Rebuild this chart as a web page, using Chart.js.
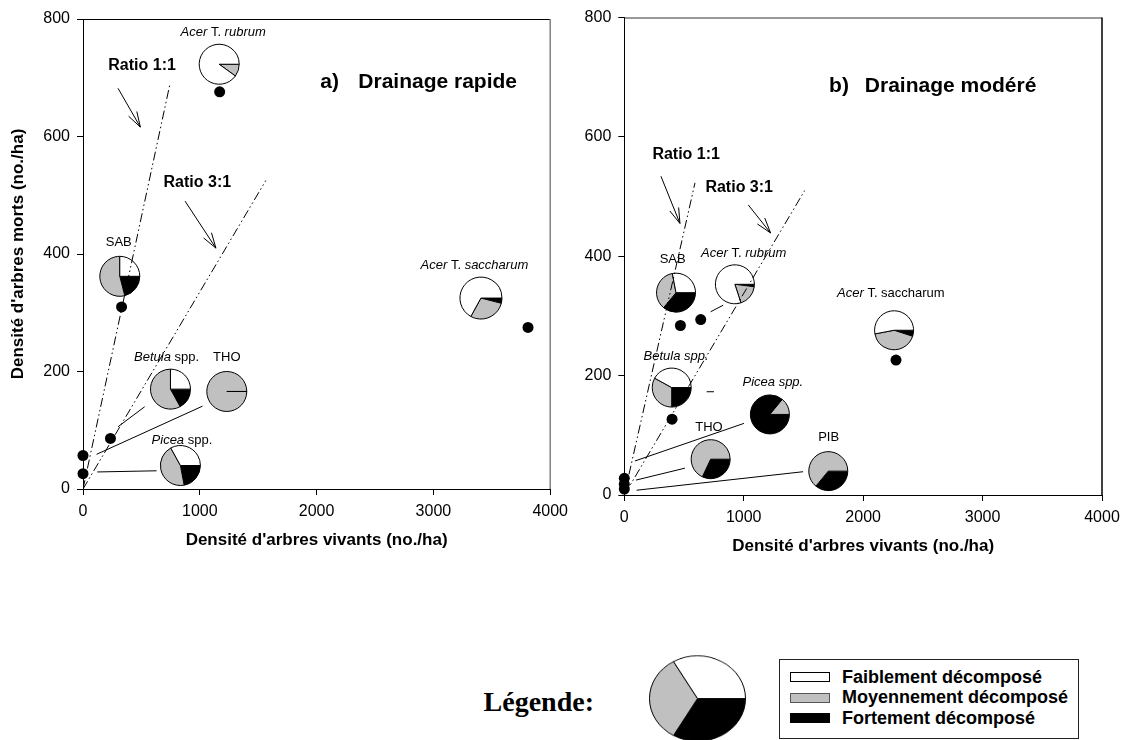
<!DOCTYPE html>
<html lang="fr">
<head>
<meta charset="utf-8">
<title>Densité d'arbres morts et vivants</title>
<script src="https://cdn.jsdelivr.net/npm/chart.js@4.4.1/dist/chart.umd.min.js"></script>
<style>
  body { margin: 0; background: #fff; }
  #wrap { position: relative; width: 1130px; height: 740px; overflow: hidden; font-family: 'Liberation Sans', Arial, sans-serif; }
  #chartA { position: absolute; left: 0; top: 0; }
  #chartB { position: absolute; left: 560px; top: 0; }
  #legPie { position: absolute; left: 649px; top: 650px; transform: scaleY(0.89); }
  #legTitle { position: absolute; right: 536px; top: 686px; line-height: 32px; font: bold 28px 'Liberation Serif', 'Times New Roman', serif; }
  #legBox { position: absolute; left: 779px; top: 659px; width: 298px; height: 78px; border: 1px solid #222; }
  .row { position: absolute; left: 10px; height: 20px; display: flex; align-items: center; font-weight: bold; font-size: 18px; }
  .sw { width: 40px; height: 10px; border: 1px solid #000; margin-right: 12px; box-sizing: border-box; }
</style>
</head>
<body>
<div id="wrap">
  <canvas id="chartA" width="575" height="560"></canvas>
  <canvas id="chartB" width="570" height="570"></canvas>
  <div id="legTitle">Légende:</div>
  <canvas id="legPie" width="97" height="97"></canvas>
  <div id="legBox"></div>
</div>
<script>
/* eslint-disable no-undef */
const FAM = "'Liberation Sans', Arial, sans-serif";
Chart.defaults.font.family = FAM;
Chart.defaults.color = '#000';

// decay classes, in the order the pies are drawn (clockwise from 3 o'clock)
const decayLabels = ['Fortement décomposé', 'Moyennement décomposé', 'Faiblement décomposé'];
const decayColors = ['#000000', '#c0c0c0', '#ffffff'];
const legendShares = [1, 1, 1];

const xTicks = [0, 1000, 2000, 3000, 4000];
const yTicks = [0, 200, 400, 600, 800];

// a) Drainage rapide
const speciesA = ['Acer T. rubrum', 'Acer T. saccharum', 'SAB', 'Betula spp.', 'THO', 'Picea spp.'];
const vivantsA = [1170, 3810, 330, 235, 0, 0];
const mortsA = [676, 275, 310, 86, 57, 26];
const fortA = [0, 4, 21, 17, 0, 22];
const moyenA = [10, 29, 54, 58, 100, 45];
const faibleA = [90, 67, 25, 25, 0, 33];
const ratio11A = [[0, 0], [745, 690]];
const ratio31A = [[0, 0], [1565, 525]];

// b) Drainage modéré
const speciesB = ['SAB', 'Acer T. rubrum', 'Acer T. saccharum', 'Betula spp.', 'Picea spp.', 'THO', 'PIB'];
const vivantsB = [470, 640, 2275, 400, 0, 0, 0];
const mortsB = [284, 294, 226, 127, 28, 18, 10];
const fortB = [36, 2, 5, 25, 86, 32, 36];
const moyenB = [36, 18, 42, 33, 14, 68, 64];
const faibleB = [28, 80, 53, 42, 0, 0, 0];
const ratio11B = [[0, 0], [592, 523]];
const ratio31B = [[0, 0], [1510, 510]];

// where the pies, their names and the leader lines sit (data units)
const placeA = {
  'Acer T. rubrum': { pie: [1166, 723], label: [1200, 778], runs: [['Acer', 1], [' T. ', 0], ['rubrum', 1]] },
  'Acer T. saccharum': { pie: [3407, 325], label: [3351, 381], r: 21, runs: [['Acer', 1], [' T. ', 0], ['saccharum', 1]] },
  'SAB': { pie: [315, 362], label: [306, 419], runs: [['SAB', 0]] },
  'Betula spp.': { pie: [749, 170], label: [716, 224], runs: [['Betula', 1], [' spp.', 0]] },
  'THO': { pie: [1231, 166], label: [1231, 224], runs: [['THO', 0]] },
  'Picea spp.': { pie: [834, 40], label: [847, 83], runs: [['Picea', 1], [' spp.', 0]] },
};
const placeB = {
  'SAB': { pie: [433, 339], label: [405, 394], runs: [['SAB', 0]] },
  'Acer T. rubrum': { pie: [926, 353], label: [1000, 404], runs: [['Acer', 1], [' T. ', 0], ['rubrum', 1]] },
  'Acer T. saccharum': { pie: [2259, 276], label: [2232, 337], runs: [['Acer', 1], [' T. saccharum', 0]] },
  'Betula spp.': { pie: [397, 180], label: [434, 233], runs: [['Betula spp.', 1]] },
  'Picea spp.': { pie: [1219, 135], label: [1244, 188], runs: [['Picea spp.', 1]] },
  'THO': { pie: [723, 60], label: [709, 113], runs: [['THO', 0]] },
  'PIB': { pie: [1708, 40], label: [1711, 96], runs: [['PIB', 0]] },
};
const leadersA = [
  [[116, 59], [1023, 141]],
  [[122, 29], [630, 31]],
  [[300, 106], [528, 140]],
];
const leadersB = [
  [[723, 307], [828, 318]],
  [[89, 57], [1002, 120]],
  [[98, 25], [508, 45]],
  [[103, 8], [1497, 39]],
  [[690, 173], [751, 173]],
];

function drawRuns(ctx, parts, cx, cy, size, bold) {
  const fonts = parts.map(p => (p[1] ? 'italic ' : '') + (bold ? 'bold ' : '') + size + 'px ' + FAM);
  let w = 0;
  parts.forEach((p, i) => { ctx.font = fonts[i]; w += ctx.measureText(p[0]).width; });
  let x = cx - w / 2;
  parts.forEach((p, i) => { ctx.font = fonts[i]; ctx.fillText(p[0], x, cy); x += ctx.measureText(p[0]).width; });
}

function drawArrow(ctx, x1, y1, x2, y2) {
  const ang = Math.atan2(y2 - y1, x2 - x1);
  const h = 16;
  ctx.beginPath();
  ctx.moveTo(x1, y1);
  ctx.lineTo(x2, y2);
  ctx.moveTo(x2 - h * Math.cos(ang - 0.3), y2 - h * Math.sin(ang - 0.3));
  ctx.lineTo(x2, y2);
  ctx.lineTo(x2 - h * Math.cos(ang + 0.3), y2 - h * Math.sin(ang + 0.3));
  ctx.stroke();
}

function decor(o) {
  return {
    id: 'decor',
    beforeDatasetsDraw(chart) {
      const { ctx, scales: { x, y } } = chart;
      ctx.save();
      ctx.strokeStyle = '#000';
      ctx.lineWidth = 1;
      o.species.forEach((name, i) => {
        const pl = o.place[name];
        const cx = x.getPixelForValue(pl.pie[0]);
        const cy = y.getPixelForValue(pl.pie[1]);
        const r = pl.r || o.r;
        const parts = [o.fort[i], o.moyen[i], o.faible[i]];
        let a = 0;
        parts.forEach((v, k) => {
          if (v <= 0) return;
          const b = a + v / 100 * Math.PI * 2;
          ctx.beginPath();
          ctx.moveTo(cx, cy);
          ctx.arc(cx, cy, r, a, b);
          ctx.closePath();
          ctx.fillStyle = decayColors[k];
          ctx.fill();
          ctx.stroke();
          a = b;
        });
      });
      ctx.restore();
    },
    afterDatasetsDraw(chart) {
      const { ctx, scales: { x, y } } = chart;
      ctx.save();
      ctx.fillStyle = '#000';
      ctx.strokeStyle = '#000';
      ctx.lineWidth = 1;
      ctx.textBaseline = 'middle';
      ctx.textAlign = 'left';
      o.species.forEach(name => {
        const pl = o.place[name];
        drawRuns(ctx, pl.runs, x.getPixelForValue(pl.label[0]), y.getPixelForValue(pl.label[1]), 13, false);
      });
      o.ratioText.forEach(t => {
        drawRuns(ctx, [[t.text, 0]], x.getPixelForValue(t.at[0]), y.getPixelForValue(t.at[1]), 16, true);
      });
      o.arrows.forEach(a => {
        drawArrow(ctx, x.getPixelForValue(a[0][0]), y.getPixelForValue(a[0][1]),
          x.getPixelForValue(a[1][0]), y.getPixelForValue(a[1][1]));
      });
      ctx.font = 'bold 21px ' + FAM;
      const ty = y.getPixelForValue(o.title.y);
      ctx.fillText(o.title.tag, x.getPixelForValue(o.title.tagX), ty);
      ctx.fillText(o.title.text, x.getPixelForValue(o.title.textX), ty);
      ctx.restore();
    },
    afterDraw(chart) {
      const { ctx, chartArea: c } = chart;
      ctx.save();
      ctx.lineWidth = 1;
      ctx.strokeStyle = o.topColor;
      ctx.beginPath();
      ctx.moveTo(c.left, c.top + 0.5);
      ctx.lineTo(c.right, c.top + 0.5);
      ctx.stroke();
      ctx.lineWidth = o.rightWidth;
      ctx.strokeStyle = o.rightColor;
      ctx.beginPath();
      ctx.moveTo(c.right, c.top);
      ctx.lineTo(c.right, c.bottom);
      ctx.stroke();
      ctx.restore();
    },
  };
}

function lineSet(pts, dash) {
  return {
    data: pts.map(p => ({ x: p[0], y: p[1] })),
    showLine: true,
    pointRadius: 0,
    borderColor: '#000',
    borderWidth: 1,
    borderDash: dash || [],
  };
}

const ratioDash = [9, 3, 1.5, 3, 1.5, 3];

function panel(id, o) {
  return new Chart(document.getElementById(id), {
    type: 'scatter',
    data: {
      datasets: [
        {
          data: o.live.map((v, i) => ({ x: v, y: o.dead[i] })),
          pointRadius: 5.5,
          backgroundColor: '#000',
          borderWidth: 0,
          clip: false,
        },
        lineSet(o.ratio11, ratioDash),
        lineSet(o.ratio31, ratioDash),
        ...o.leaders.map(l => lineSet(l)),
      ],
    },
    options: {
      responsive: false,
      animation: false,
      events: [],
      layout: { padding: { top: o.top, right: o.right, left: 0, bottom: 0 } },
      plugins: { legend: { display: false }, tooltip: { enabled: false } },
      scales: {
        x: {
          type: 'linear',
          min: 0,
          max: 4000,
          afterBuildTicks: s => { s.ticks = xTicks.map(v => ({ value: v })); },
          ticks: { color: '#000', font: { size: 16 }, padding: 7, autoSkip: false, maxRotation: 0, callback: v => String(v) },
          grid: { drawOnChartArea: false, color: '#000', tickLength: 6 },
          border: { color: '#000', width: 1 },
          title: {
            display: true,
            text: "Densité d'arbres vivants (no./ha)",
            color: '#000',
            font: { size: 17, weight: 'bold' },
            padding: { top: 0, bottom: o.xTitlePad },
          },
          afterFit: s => { s.height = o.xAxisH; },
        },
        y: {
          type: 'linear',
          min: 0,
          max: 800,
          afterBuildTicks: s => { s.ticks = yTicks.map(v => ({ value: v })); },
          ticks: { color: '#000', font: { size: 16 }, padding: 7, autoSkip: false, callback: v => String(v) },
          grid: { drawOnChartArea: false, color: '#000', tickLength: 6 },
          border: { color: '#000', width: 1 },
          title: {
            display: o.yTitle,
            text: "Densité d'arbres morts (no./ha)",
            color: '#000',
            font: { size: 17, weight: 'bold' },
            padding: { top: 8, bottom: 0 },
          },
          afterFit: s => { s.width = o.yAxisW; },
        },
      },
    },
    plugins: [decor(o)],
  });
}

panel('chartA', {
  species: speciesA, live: vivantsA, dead: mortsA,
  fort: fortA, moyen: moyenA, faible: faibleA,
  place: placeA, leaders: leadersA, ratio11: ratio11A, ratio31: ratio31A,
  r: 20,
  ratioText: [{ text: 'Ratio 1:1', at: [506, 720] }, { text: 'Ratio 3:1', at: [979, 521] }],
  arrows: [[[300, 682], [491, 616]], [[874, 490], [1138, 410]]],
  title: { tag: 'a)', tagX: 2031, text: 'Drainage rapide', textX: 2357, y: 692 },
  top: 19, right: 22, xAxisH: 71, yAxisW: 83, xTitlePad: 9, yTitle: true,
  topColor: '#000', rightColor: '#808080', rightWidth: 1.5,
});

panel('chartB', {
  species: speciesB, live: vivantsB, dead: mortsB,
  fort: fortB, moyen: moyenB, faible: faibleB,
  place: placeB, leaders: leadersB, ratio11: ratio11B, ratio31: ratio31B,
  r: 19.5,
  ratioText: [{ text: 'Ratio 1:1', at: [518, 571] }, { text: 'Ratio 3:1', at: [962, 515] }],
  arrows: [[[307, 534], [466, 455]], [[1038, 486], [1225, 439]]],
  title: { tag: 'b)', tagX: 1715, text: 'Drainage modéré', textX: 2014, y: 685 },
  top: 17.5, right: 28, xAxisH: 75, yAxisW: 64.3, xTitlePad: 13, yTitle: false,
  topColor: '#333', rightColor: '#000', rightWidth: 1.5,
});

// legend glyph: equal thirds, same slice order as the pies
new Chart(document.getElementById('legPie'), {
  type: 'pie',
  data: {
    labels: decayLabels,
    datasets: [{ data: legendShares, backgroundColor: decayColors, borderColor: '#000', borderWidth: 1 }],
  },
  options: {
    responsive: false,
    animation: false,
    events: [],
    rotation: 90,
    plugins: { legend: { display: false }, tooltip: { enabled: false } },
  },
});

// legend box, listed from light to dark as in the figure
const box = document.getElementById('legBox');
[2, 1, 0].forEach((k, row) => {
  const div = document.createElement('div');
  div.className = 'row';
  div.style.top = (7 + row * 20.5) + 'px';
  const sw = document.createElement('span');
  sw.className = 'sw';
  sw.style.background = decayColors[k];
  if (k === 1) sw.style.borderColor = '#555';
  div.appendChild(sw);
  div.appendChild(document.createTextNode(decayLabels[k]));
  box.appendChild(div);
});
</script>
</body>
</html>
